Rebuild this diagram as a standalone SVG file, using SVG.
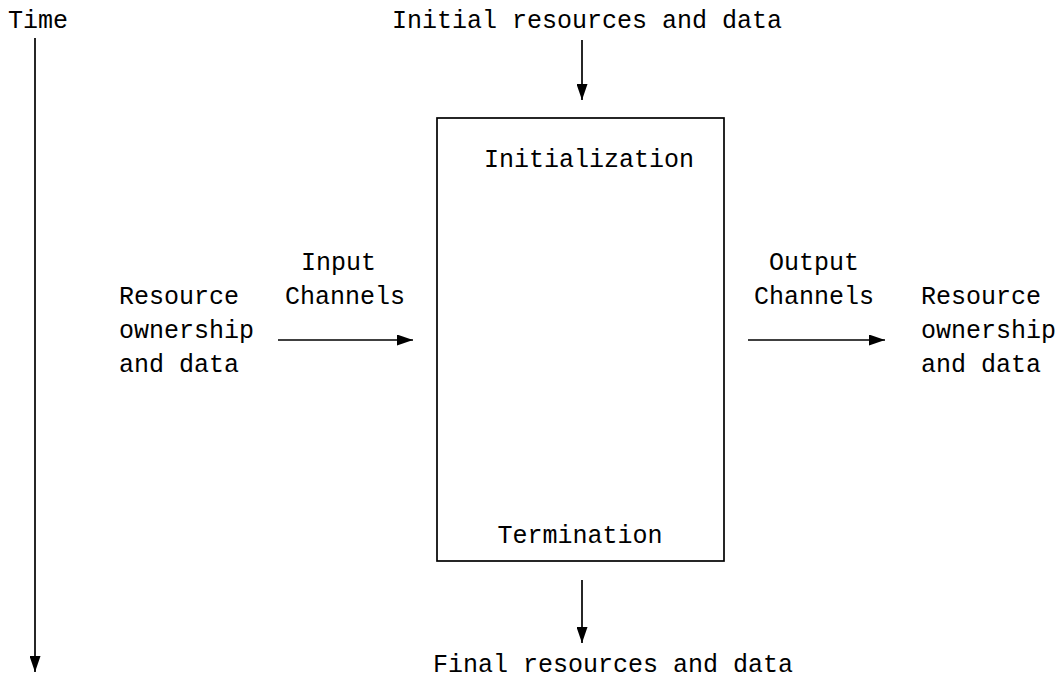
<svg xmlns="http://www.w3.org/2000/svg" width="1063" height="686" viewBox="0 0 1063 686">
<style>
text{font-family:"Liberation Mono","DejaVu Sans Mono",monospace;font-size:25px;fill:#000}
.ln{stroke:#000;stroke-width:1.7;fill:none}
</style>
<defs>
<marker id="ah" markerWidth="16" markerHeight="11" refX="16" refY="5.5" orient="auto" markerUnits="userSpaceOnUse">
<path d="M0,0 L16,5.5 L0,11 Z" fill="#000"/>
</marker>
</defs>
<rect width="1063" height="686" fill="#fff"/>
<g id="time"><text x="8" y="28">Time</text></g>
<g id="initial"><text x="392" y="28">Initial resources and data</text></g>
<g id="process">
<rect class="ln" x="437" y="118" width="287" height="443"/>
<text x="589" y="167" text-anchor="middle">Initialization</text>
<text x="580" y="543" text-anchor="middle">Termination</text>
</g>
<g id="input-label"><text x="301" y="270">Input</text><text x="285" y="304">Channels</text></g>
<g id="output-label"><text x="769" y="270">Output</text><text x="754" y="304">Channels</text></g>
<g id="left-resource"><text x="119" y="304">Resource</text><text x="119" y="338">ownership</text><text x="119" y="372">and data</text></g>
<g id="right-resource"><text x="921" y="304">Resource</text><text x="921" y="338">ownership</text><text x="921" y="372">and data</text></g>
<g id="final"><text x="433" y="672">Final resources and data</text></g>
<g id="connectors">
<line class="ln" x1="35" y1="38" x2="35" y2="672" marker-end="url(#ah)"/>
<line class="ln" x1="582" y1="40" x2="582" y2="100" marker-end="url(#ah)"/>
<line class="ln" x1="278" y1="340" x2="413" y2="340" marker-end="url(#ah)"/>
<line class="ln" x1="748" y1="340" x2="885" y2="340" marker-end="url(#ah)"/>
<line class="ln" x1="582" y1="580" x2="582" y2="643" marker-end="url(#ah)"/>
</g>
</svg>
